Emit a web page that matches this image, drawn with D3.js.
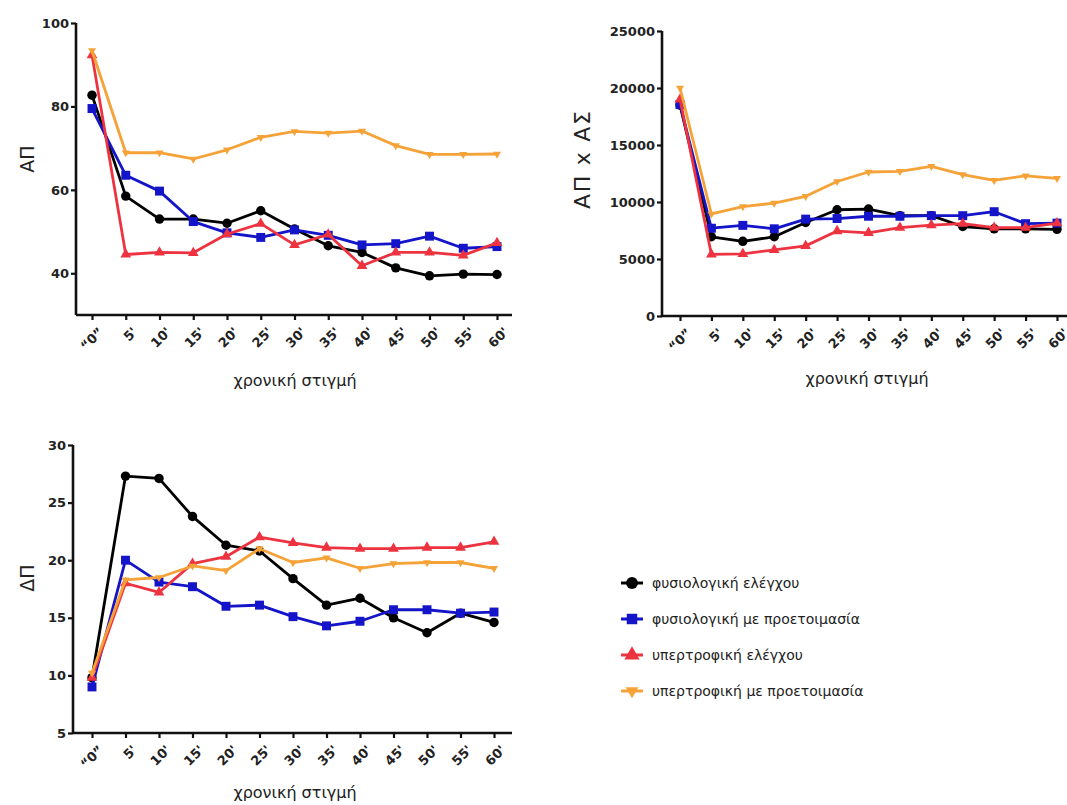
<!DOCTYPE html>
<html><head><meta charset="utf-8">
<script src="https://cdn.jsdelivr.net/npm/d3@7"></script>
<style>
body{margin:0;background:#fff;}
svg{display:block;font-family:"DejaVu Sans",Verdana,sans-serif;}
</style></head>
<body><svg id="c" width="1067" height="805"></svg>
<script>
const categories = ["\u201C0\u201D","5'","10'","15'","20'","25'","30'","35'","40'","45'","50'","55'","60'"];
const seriesNames = ["φυσιολογική ελέγχου","φυσιολογική με προετοιμασία","υπερτροφική ελέγχου","υπερτροφική με προετοιμασία"];
const seriesColors = ["#000000","#1414c8","#ee3340","#f5a238"];
const seriesShapes = ["circle","square","triangle","triangleDown"];

// ΑΠ
const ap_black  = [82.7,58.5,53,53,52,55,50.6,46.6,45,41.3,39.4,39.8,39.7];
const ap_blue   = [79.5,63.5,59.7,52.4,49.7,48.6,50.4,49.1,46.8,47.1,48.9,46,46.4];
const ap_red    = [92.3,44.5,45,44.9,49.4,51.9,46.8,49.3,41.8,45,45,44.3,47.3];
const ap_orange = [93.4,68.9,68.9,67.4,69.6,72.6,74,73.6,74.1,70.6,68.5,68.5,68.6];

// ΑΠ x ΑΣ
const rpp_black  = [18500,6950,6550,6950,8200,9320,9380,8800,8800,7850,7650,7650,7600];
const rpp_blue   = [18550,7700,7950,7650,8500,8550,8750,8750,8800,8800,9150,8100,8150];
const rpp_red    = [19000,5400,5450,5800,6150,7450,7300,7750,7970,8100,7750,7750,8150];
const rpp_orange = [20000,8950,9600,9900,10500,11800,12630,12690,13130,12400,11900,12300,12070];

// ΔΠ
const dp_black  = [9.8,27.3,27.1,23.8,21.3,20.8,18.4,16.1,16.7,15,13.7,15.4,14.6];
const dp_blue   = [9.0,20.0,18.1,17.7,16.0,16.1,15.1,14.3,14.7,15.7,15.7,15.4,15.5];
const dp_red    = [9.8,18.0,17.2,19.7,20.3,22.0,21.5,21.1,21.0,21.0,21.1,21.1,21.6];
const dp_orange = [10.2,18.3,18.5,19.5,19.1,21.0,19.8,20.2,19.3,19.7,19.8,19.8,19.3];

const yTicks1 = [40,60,80,100];
const yTicks2 = [0,5000,10000,15000,20000,25000];
const yTicks3 = [5,10,15,20,25,30];

const svg = d3.select("#c");

function marker(g, shape, color, size){
  const s = shape==="circle"?d3.symbolCircle:shape==="square"?d3.symbolSquare:d3.symbolTriangle;
  const p = g.append("path").attr("d", d3.symbol().type(s).size(size)()).attr("fill",color);
  if(shape==="triangleDown") p.attr("transform","rotate(180)");
  return p;
}

function chart(cfg){
  const g = svg.append("g");
  const x = d3.scalePoint().domain(categories).range([cfg.x0,cfg.x1]);
  const y = d3.scaleLinear().domain(cfg.ydom).range([cfg.yb,cfg.yt]);
  const ya = g.append("g").attr("transform",`translate(${cfg.ax},0)`)
    .call(d3.axisLeft(y).tickValues(cfg.ticks).tickSize(5).tickPadding(2).tickFormat(d3.format("d")));
  ya.select(".domain").attr("d",`M0,${cfg.yt}V${cfg.yb}`);
  const xa = g.append("g").attr("transform",`translate(0,${cfg.yb})`)
    .call(d3.axisBottom(x).tickSize(5).tickPadding(3));
  xa.select(".domain").attr("d",`M${cfg.ax},0H${cfg.axr}`);
  [ya,xa].forEach(a=>{
    a.selectAll(".domain").attr("stroke","#111").attr("stroke-width",2.6);
    a.selectAll(".tick line").attr("stroke","#111").attr("stroke-width",2.2);
    a.selectAll("text").attr("font-size",13).attr("font-weight","bold").attr("fill","#222")
      .attr("font-family","DejaVu Sans, Verdana, sans-serif");
  });
  xa.selectAll("text").attr("text-anchor","end").attr("dy","0.35em")
    .attr("transform","translate(3,9) rotate(-45)");
  const yt = g.append("text").attr("transform",`translate(${cfg.ytx},${cfg.yty}) rotate(-90)`)
    .attr("text-anchor","middle").attr("font-size",cfg.yfs).attr("fill","#222").text(cfg.ytitle);
  if(cfg.ylen) yt.attr("textLength",cfg.ylen).attr("lengthAdjust","spacing");
  g.append("text").attr("x",cfg.xtx).attr("y",cfg.xty).attr("text-anchor","middle")
    .attr("font-size",16).attr("fill","#222").text("χρονική στιγμή");
  const line = d3.line().x((d,i)=>x(categories[i])).y(d=>y(d));
  cfg.data.forEach((vals,si)=>{
    g.append("path").datum(vals).attr("d",line).attr("fill","none")
      .attr("stroke",seriesColors[si]).attr("stroke-width",2.8).attr("stroke-linejoin","round");
    vals.forEach((v,i)=>{
      const mg = g.append("g").attr("transform",`translate(${x(categories[i])},${y(v)})`);
      marker(mg, seriesShapes[si], seriesColors[si], [70,80,50,28][si]);
    });
  });
}

chart({x0:92,x1:497,ax:76,axr:512,yt:23,yb:315,ydom:[30,100],ticks:yTicks1,
  ytitle:"ΑΠ",ytx:34,yty:159,yfs:19,xtx:295,xty:386,
  data:[ap_black,ap_blue,ap_red,ap_orange]});
chart({x0:680,x1:1057,ax:662,axr:1067,yt:31,yb:316,ydom:[0,25000],ticks:yTicks2,
  ytitle:"ΑΠ x ΑΣ",ytx:590,yty:160,yfs:22,ylen:98,xtx:867,xty:384,
  data:[rpp_black,rpp_blue,rpp_red,rpp_orange]});
chart({x0:92,x1:494,ax:73,axr:512,yt:445,yb:733,ydom:[5,30],ticks:yTicks3,
  ytitle:"ΔΠ",ytx:34,yty:578,yfs:19,xtx:295,xty:798,
  data:[dp_black,dp_blue,dp_red,dp_orange]});

const lg = svg.append("g");
seriesNames.forEach((n,i)=>{
  const yy = 583 + i*36;
  lg.append("line").attr("x1",621).attr("x2",643).attr("y1",yy).attr("y2",yy)
    .attr("stroke",seriesColors[i]).attr("stroke-width",3);
  const mg = lg.append("g").attr("transform",`translate(632,${yy})`);
  marker(mg, seriesShapes[i], seriesColors[i], [110,110,100,70][i]);
  lg.append("text").attr("x",652).attr("y",yy).attr("dy","0.35em").attr("font-size",14)
    .attr("fill","#222").text(n);
});
</script></body></html>
